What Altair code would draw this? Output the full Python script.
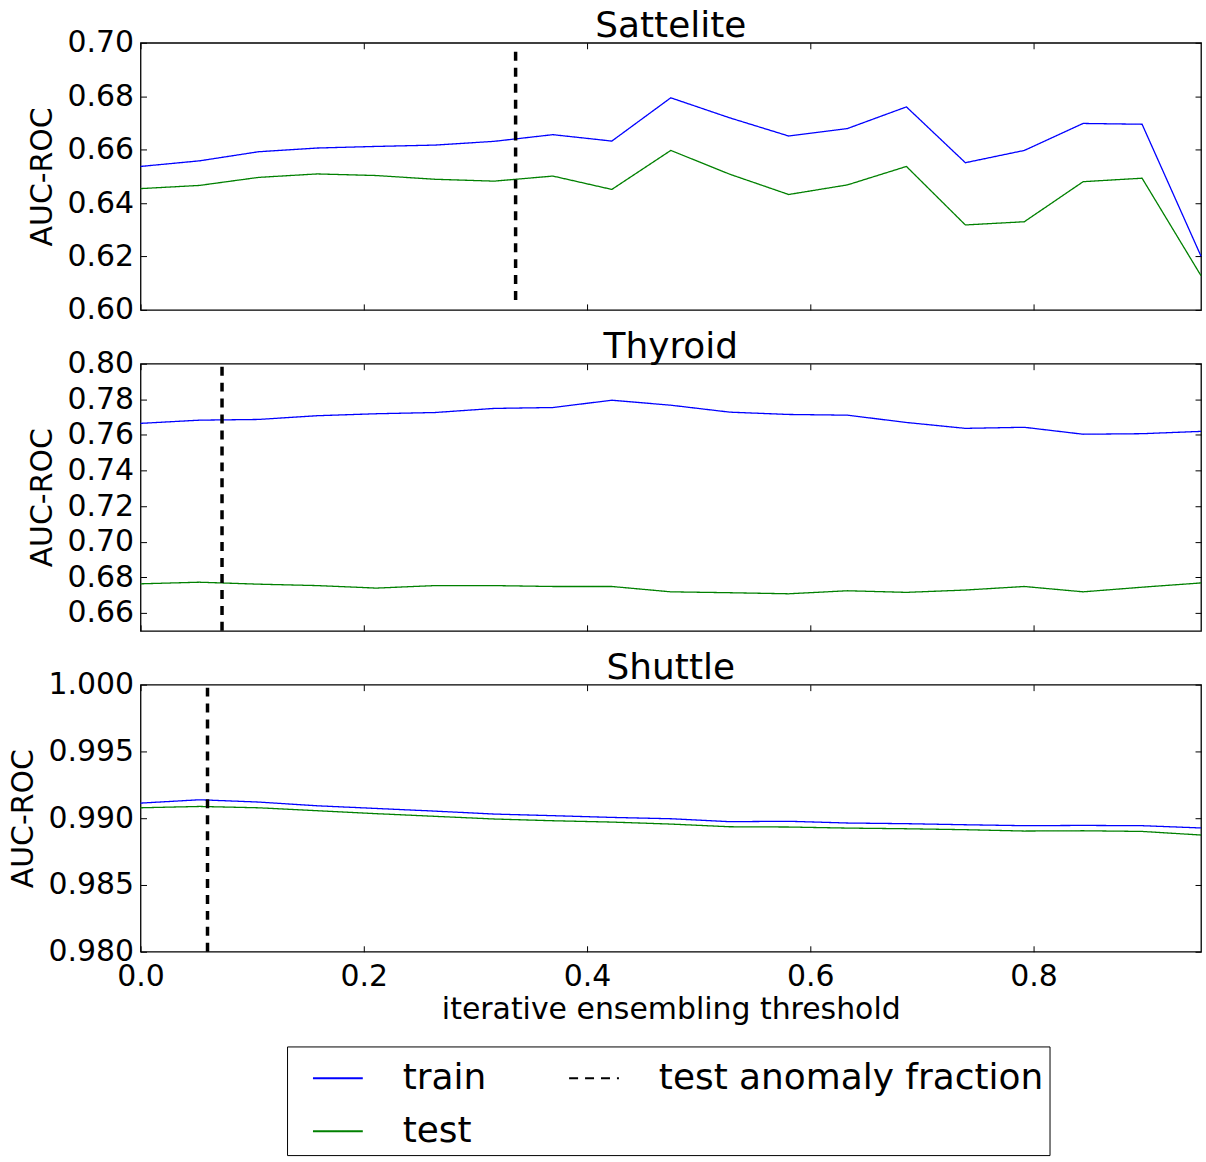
import altair as alt
import pandas as pd

FONT = "DejaVu Sans"

# shared x positions (iterative ensembling threshold)
x_vals = [0.0, 0.0528, 0.1056, 0.1583, 0.2111, 0.2639, 0.3167, 0.3694, 0.4222, 0.475,
          0.5278, 0.5806, 0.6333, 0.6861, 0.7389, 0.7917, 0.8444, 0.8972, 0.95]

sat_train = [0.6537, 0.6558, 0.6592, 0.6606, 0.6612, 0.6617, 0.6631, 0.6656, 0.6632, 0.6794,
             0.6719, 0.6651, 0.6679, 0.6760, 0.6551, 0.6597, 0.6698, 0.6695, 0.6201]
sat_test = [0.6454, 0.6466, 0.6496, 0.6509, 0.6503, 0.6489, 0.6482, 0.6501, 0.6451, 0.6597,
            0.6508, 0.6432, 0.6468, 0.6537, 0.6318, 0.6330, 0.6480, 0.6493, 0.6128]

thy_train = [0.7665, 0.7683, 0.7687, 0.7708, 0.7719, 0.7726, 0.7749, 0.7754, 0.7795, 0.7767,
             0.7728, 0.7715, 0.7711, 0.7670, 0.7637, 0.7643, 0.7604, 0.7607, 0.7620]
thy_test = [0.6764, 0.6773, 0.6762, 0.6754, 0.6740, 0.6754, 0.6754, 0.6749, 0.6749, 0.6719,
            0.6714, 0.6708, 0.6725, 0.6716, 0.6729, 0.6749, 0.6719, 0.6745, 0.6769]

shu_train = [0.99113, 0.99138, 0.99121, 0.99093, 0.99073, 0.99053, 0.99031, 0.99019, 0.99006, 0.98996,
             0.98974, 0.98977, 0.98964, 0.98959, 0.98951, 0.98944, 0.98946, 0.98944, 0.98927]
shu_test = [0.99078, 0.99088, 0.99078, 0.99056, 0.99034, 0.99014, 0.98994, 0.98981, 0.98971, 0.98956,
            0.98936, 0.98934, 0.98926, 0.98921, 0.98914, 0.98904, 0.98906, 0.98901, 0.98874]

# test anomaly fraction (vertical dashed line) and its vertical extent
sat_frac, sat_frac_lo, sat_frac_hi = 0.336, 0.6037, 0.6975
thy_frac, thy_frac_lo, thy_frac_hi = 0.073, 0.65, 0.80
shu_frac, shu_frac_lo, shu_frac_hi = 0.060, 0.98, 1.0

x_ticks = [0.0, 0.2, 0.4, 0.6, 0.8]
sat_ticks = [0.60, 0.62, 0.64, 0.66, 0.68, 0.70]
thy_ticks = [0.66, 0.68, 0.70, 0.72, 0.74, 0.76, 0.78, 0.80]
shu_ticks = [0.980, 0.985, 0.990, 0.995, 1.000]

KINDS = ["train", "test", "test anomaly fraction"]
COLORS = ["#0000ff", "#008000", "#000000"]
DASHES = [[1, 0], [1, 0], [9, 7]]

PW, PH = 1064, 268
TICK = 6


def panel(title, train, test, frac, lo, hi, ydom, yticks, yfmt, bottom):
    n = len(x_vals)
    df = pd.DataFrame({"x": x_vals + x_vals, "y": train + test,
                       "kind": ["train"] * n + ["test"] * n})
    rdf = pd.DataFrame({"x": [frac], "y": [lo], "y2": [hi], "kind": ["test anomaly fraction"]})

    def xs():
        return alt.Scale(domain=[0, 0.95], nice=False, zero=False)

    def ys():
        return alt.Scale(domain=ydom, nice=False, zero=False)

    color = alt.Color("kind:N", scale=alt.Scale(domain=KINDS, range=COLORS), title=None)
    dash = alt.StrokeDash("kind:N", scale=alt.Scale(domain=KINDS, range=DASHES), title=None)

    xaxis = alt.Axis(values=x_ticks, format=".1f", labels=bottom, labelFlush=False,
                     title="iterative ensembling threshold" if bottom else None,
                     tickSize=TICK, offset=-TICK, domain=False, grid=False,
                     labelPadding=10, titlePadding=3)
    yaxis = alt.Axis(values=yticks, format=yfmt, title="AUC-ROC", tickSize=TICK, offset=-TICK,
                     domain=False, grid=False, labelPadding=7, titlePadding=10)

    lines = alt.Chart(df).mark_line(strokeWidth=1.3).encode(
        x=alt.X("x:Q", scale=xs(), axis=xaxis),
        y=alt.Y("y:Q", scale=ys(), axis=yaxis),
        color=color,
        strokeDash=dash,
        detail="kind:N",
    )
    rule = alt.Chart(rdf).mark_rule(strokeWidth=3.5).encode(
        x=alt.X("x:Q", scale=xs(), axis=None),
        y=alt.Y("y:Q", scale=ys(), axis=None),
        y2="y2:Q",
        color=color,
        strokeDash=dash,
    )
    frame = alt.Chart(df).mark_point(opacity=0).encode(
        x=alt.X("x:Q", scale=xs(), axis=alt.Axis(orient="top", values=x_ticks, labels=False,
                                                  title=None, tickSize=TICK, offset=-TICK,
                                                  domain=False, grid=False)),
        y=alt.Y("y:Q", scale=ys(), axis=alt.Axis(orient="right", values=yticks, labels=False,
                                                  title=None, tickSize=TICK, offset=-TICK,
                                                  domain=False, grid=False)),
    )
    return alt.layer(lines, rule, frame).resolve_scale(x="independent", y="independent").properties(
        width=PW, height=PH,
        title=alt.TitleParams(title, fontSize=36, font=FONT, fontWeight="normal", offset=-17,
                              anchor="middle", frame="group", color="black"),
    )


p1 = panel("Sattelite", sat_train, sat_test, sat_frac, sat_frac_lo, sat_frac_hi,
           [0.60, 0.70], sat_ticks, ".2f", False)
p2 = panel("Thyroid", thy_train, thy_test, thy_frac, thy_frac_lo, thy_frac_hi,
           [0.65, 0.80], thy_ticks, ".2f", False)
p3 = panel("Shuttle", shu_train, shu_test, shu_frac, shu_frac_lo, shu_frac_hi,
           [0.98, 1.0], shu_ticks, ".3f", True)

chart = alt.vconcat(p1, p2, p3, spacing=54, bounds="flush").resolve_scale(
    color="shared", strokeDash="shared"
).properties(
    padding={"left": 7, "top": 5, "right": 1, "bottom": 0},
    background="white",
).configure_view(
    stroke="black", strokeWidth=1.3
).configure_axis(
    labelFont=FONT, titleFont=FONT, labelFontSize=30, titleFontSize=30,
    labelColor="black", titleColor="black", tickColor="black", tickWidth=1,
    titleFontWeight="normal",
).configure_legend(
    orient="none", legendX=147, legendY=1007, columns=2,
    strokeColor="black", padding=6, fillColor="white",
    labelFont=FONT, labelFontSize=36, labelColor="black", labelLimit=0,
    symbolType="stroke", symbolSize=2500, symbolStrokeWidth=2,
    labelOffset=39, columnPadding=63, rowPadding=9, symbolOffset=19,
)

chart.save("out.html", embed_options={"renderer": "svg", "actions": False})
